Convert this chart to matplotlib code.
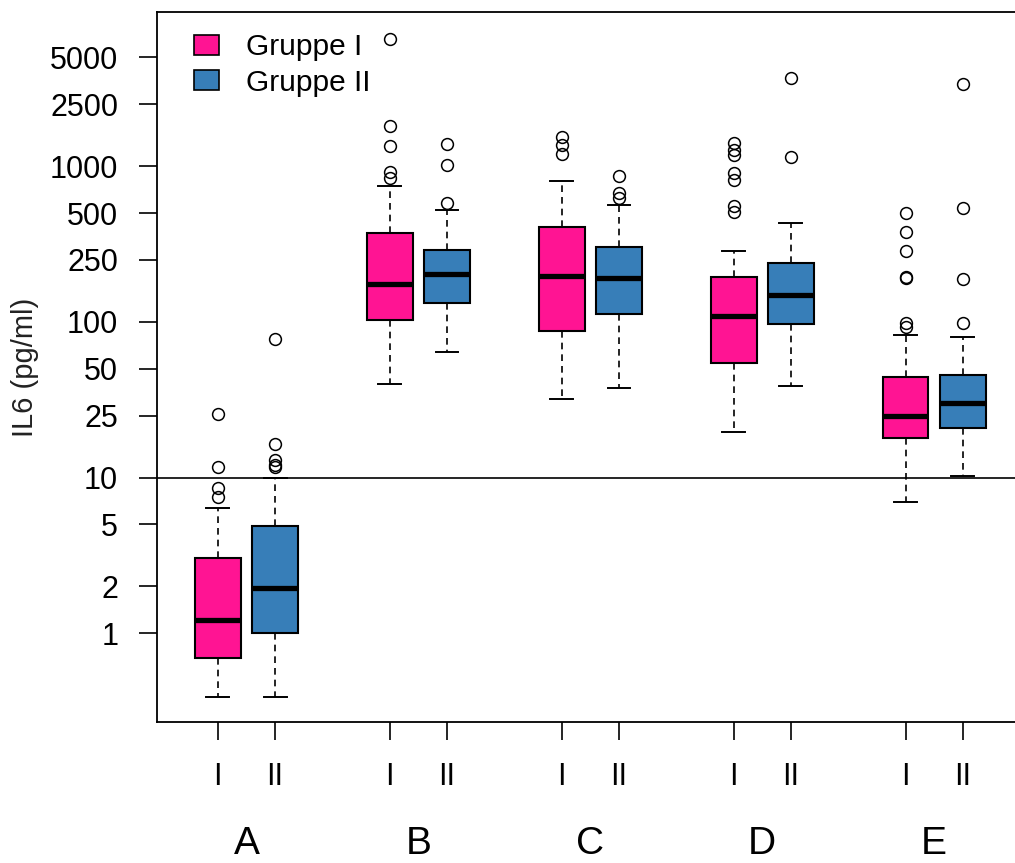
import matplotlib.pyplot as plt
from matplotlib.patches import Patch
from matplotlib.transforms import blended_transform_factory

plt.rcParams['font.family'] = ['Liberation Sans', 'DejaVu Sans']

# IL6 summary statistics per cohort (A-E), one list per box component
cohorts = ['A', 'B', 'C', 'D', 'E']
group_names = ['Gruppe I', 'Gruppe II']
sub_labels = ['I', 'II']

q1_g1 = [0.69, 103, 87.4, 54.2, 17.9]
med_g1 = [1.21, 175, 197, 109, 24.9]
q3_g1 = [3.03, 371, 405, 195, 44.1]
lo_g1 = [0.39, 39.9, 31.8, 19.7, 7.0]
hi_g1 = [6.35, 749, 807, 287, 82.4]
out_g1 = [
    [25.7, 11.7, 8.6, 7.45],
    [6560, 1812, 1348, 922, 840],
    [1548, 1368, 1192],
    [1403, 1271, 1181, 900, 815, 555, 510],
    [503, 380, 287, 195, 190, 98, 92.3],
]

q1_g2 = [1.0, 132, 112, 97, 20.9]
med_g2 = [1.94, 202, 191, 149, 30.3]
q3_g2 = [4.85, 290, 304, 238, 45.6]
lo_g2 = [0.39, 64.4, 37.5, 38.9, 10.3]
hi_g2 = [9.94, 523, 564, 434, 80.4]
out_g2 = [
    [77.8, 16.4, 13.0, 12.0, 11.6],
    [1383, 1018, 583],
    [865, 670, 622],
    [3686, 1141],
    [3373, 536, 189, 98],
]

y_ticks = [1, 2, 5, 10, 25, 50, 100, 250, 500, 1000, 2500, 5000]
cutoff = 10

colors = ['#FF1493', '#377EB8']


def make_stats(q1, med, q3, lo, hi, out):
    return [dict(q1=a, med=b, q3=c, whislo=d, whishi=e, fliers=f)
            for a, b, c, d, e, f in zip(q1, med, q3, lo, hi, out)]


stats_g1 = make_stats(q1_g1, med_g1, q3_g1, lo_g1, hi_g1, out_g1)
stats_g2 = make_stats(q1_g2, med_g2, q3_g2, lo_g2, hi_g2, out_g2)

pos_g1 = [3 * i + 1 for i in range(len(cohorts))]
pos_g2 = [3 * i + 2 for i in range(len(cohorts))]

fig = plt.figure(figsize=(10.15, 8.63), dpi=100)
ax = fig.add_axes([0.1547, 0.1634, 0.8538, 0.8227])

common = dict(widths=0.8, capwidths=0.4, patch_artist=True,
              medianprops=dict(color='black', linewidth=3.8, solid_capstyle='butt'),
              whiskerprops=dict(color='black', linewidth=1.2, linestyle=(0, (4, 3))),
              capprops=dict(color='black', linewidth=1.4),
              flierprops=dict(marker='o', markersize=8.5, markerfacecolor='none',
                              markeredgecolor='black', markeredgewidth=1.1))

for stats, pos, col in [(stats_g1, pos_g1, colors[0]), (stats_g2, pos_g2, colors[1])]:
    ax.bxp(stats, positions=pos,
           boxprops=dict(facecolor=col, edgecolor='black', linewidth=1.5),
           **common)

ax.axhline(cutoff, color='black', linewidth=1.2, zorder=0)

ax.set_yscale('log')
ax.set_ylim(0.269, 9778)
ax.set_xlim(-0.06, 15.06)

ax.set_yticks(y_ticks)
ax.set_yticklabels([str(t) for t in y_ticks])
ax.yaxis.set_minor_locator(plt.NullLocator())
ax.tick_params(axis='y', direction='out', length=13, width=1.2, pad=15, labelsize=22)

ax.set_xticks(pos_g1 + pos_g2)
ax.set_xticklabels(sub_labels[:1] * len(cohorts) + sub_labels[1:] * len(cohorts))
ax.tick_params(axis='x', direction='out', length=13, width=1.2, pad=16, labelsize=22)

for sp in ax.spines.values():
    sp.set_linewidth(1.3)

ax.set_ylabel('IL6 (pg/ml)', fontsize=21, color='#222222', labelpad=8)

# cohort names under each pair of boxes, sitting on the bottom edge
trans = blended_transform_factory(ax.transData, fig.transFigure)
for i, name in enumerate(cohorts):
    ax.text(3 * i + 1.5, 1.5 / 863, name, transform=trans,
            ha='center', va='bottom', fontsize=28)

handles = [Patch(facecolor=c, edgecolor='black', linewidth=1.2) for c in colors]
ax.legend(handles, group_names, loc='upper left', bbox_to_anchor=(0.022, 0.995),
          frameon=False, fontsize=21.5, handlelength=0.85, handleheight=0.65,
          handletextpad=0.9, labelspacing=0.25, borderaxespad=0.2)

fig.savefig('out.png', dpi=100)
